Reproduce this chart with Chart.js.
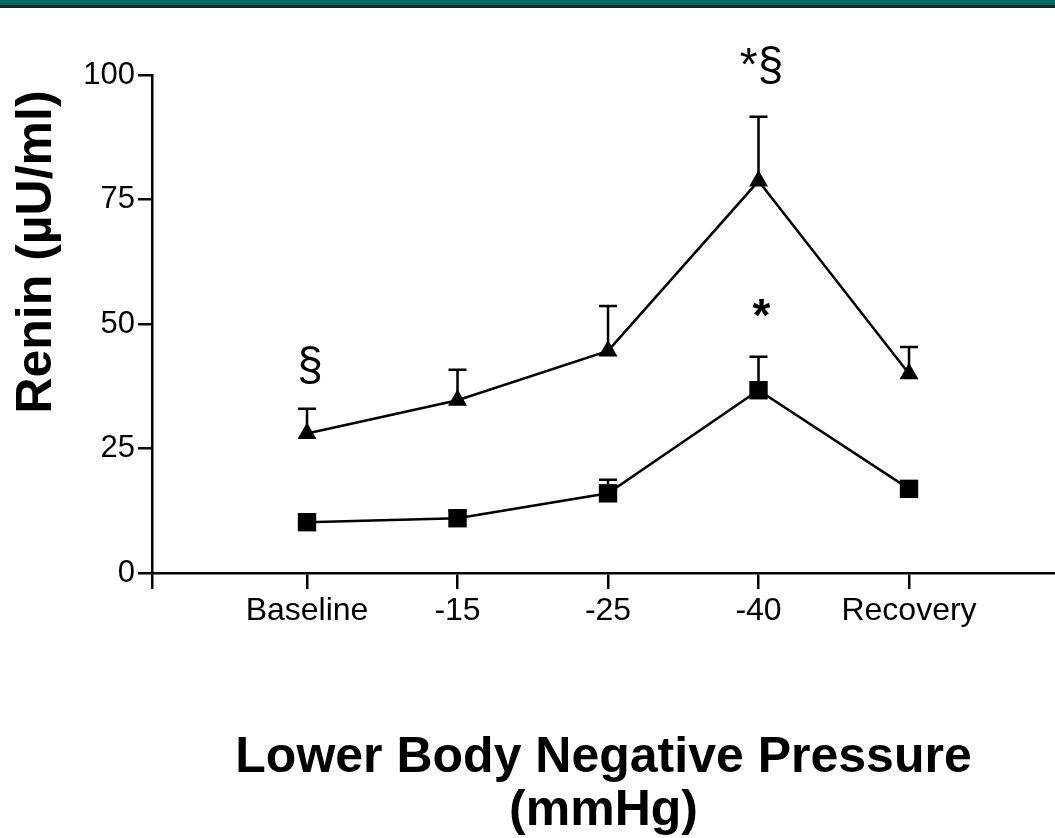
<!DOCTYPE html>
<html lang="en">
<head>
<meta charset="UTF-8">
<title>Renin during Lower Body Negative Pressure</title>
<script src="https://cdn.jsdelivr.net/npm/chart.js"></script>
<style>
  html, body { margin: 0; padding: 0; background: #fff; }
  #wrap { position: relative; width: 1055px; height: 838px; }
  #topbar { position: absolute; left: 0; top: 0; width: 1055px; height: 5px; background: #006a62; border-bottom: 3px solid #0f2a28; }
</style>
</head>
<body>
<div id="wrap">
  <canvas id="chart" width="1055" height="838"></canvas>
  <div id="topbar"></div>
</div>

<script>
  // categories on the x axis
  const categories = ['Baseline', '-15', '-25', '-40', 'Recovery'];

  // triangle series (upper line): mean and upward error (SEM)
  const triMean = [28, 34.7, 44.6, 78.7, 40];
  const triErr = [5, 6.1, 9, 12.9, 5.4];

  // square series (lower line)
  const sqMean = [10.2, 11, 16, 36.7, 16.9];
  const sqErr = [1.5, 1.5, 2.7, 6.7, 1.5];

  // y ticks
  const yTicks = [0, 25, 50, 75, 100];

  // significance marks: category index, value of the text baseline, text
  const marks = [
    { i: 0, y: 38.8, text: '§' },
    { i: 3, y: 48.5, text: '*' },
    { i: 3, y: 99, text: '*§' }
  ];

  const FONT = "'Liberation Sans', Arial, Helvetica, sans-serif";

  // draws error bars (up only) under the markers
  const errorBars = {
    id: 'errorBars',
    beforeDatasetsDraw(chart) {
      const ctx = chart.ctx;
      const x = chart.scales.x, y = chart.scales.y;
      const sets = [[triMean, triErr], [sqMean, sqErr]];
      ctx.save();
      ctx.strokeStyle = '#000';
      ctx.lineWidth = 2.5;
      sets.forEach(([mean, err]) => {
        mean.forEach((m, i) => {
          const px = x.getPixelForValue(i);
          const y0 = y.getPixelForValue(m);
          const y1 = y.getPixelForValue(m + err[i]);
          ctx.beginPath();
          ctx.moveTo(px, y0);
          ctx.lineTo(px, y1);
          ctx.moveTo(px - 9, y1);
          ctx.lineTo(px + 9, y1);
          ctx.stroke();
        });
      });
      ctx.restore();
    }
  };

  // significance symbols and the y title
  const textBits = {
    id: 'textBits',
    afterDraw(chart) {
      const ctx = chart.ctx;
      const x = chart.scales.x, y = chart.scales.y;
      ctx.save();
      ctx.fillStyle = '#000';
      ctx.textAlign = 'center';
      ctx.textBaseline = 'alphabetic';
      marks.forEach(m => {
        ctx.font = (m.text === '*' ? 'bold ' : '') + '46px ' + FONT;
        ctx.fillText(m.text, x.getPixelForValue(m.i) + 3, y.getPixelForValue(m.y));
      });

      ctx.translate(37, 252);
      ctx.rotate(-Math.PI / 2);
      ctx.font = 'bold 50px ' + FONT;
      ctx.textBaseline = 'middle';
      ctx.fillText('Renin (\u00b5U/ml)', 0, 0);
      ctx.restore();
    }
  };

  new Chart(document.getElementById('chart'), {
    type: 'scatter',
    data: {
      datasets: [
        {
          label: 'Triangles',
          data: triMean.map((v, i) => ({ x: i, y: v })),
          showLine: true,
          borderColor: '#000',
          backgroundColor: '#000',
          borderWidth: 2.5,
          pointStyle: 'triangle',
          pointRadius: 11,
          pointBorderWidth: 0
        },
        {
          label: 'Squares',
          data: sqMean.map((v, i) => ({ x: i, y: v })),
          showLine: true,
          borderColor: '#000',
          backgroundColor: '#000',
          borderWidth: 2.5,
          pointStyle: 'rect',
          pointRadius: 13,
          pointBorderWidth: 0
        }
      ]
    },
    options: {
      responsive: false,
      animation: false,
      devicePixelRatio: 1,
      layout: { autoPadding: false, padding: { top: 75, left: 0, right: 0, bottom: 0 } },
      plugins: { legend: { display: false }, tooltip: { enabled: false } },
      scales: {
        x: {
          type: 'linear',
          min: -1.03,
          max: 4.97,
          afterFit: s => { s.height = 265; s.paddingLeft = 0; s.paddingRight = 0; },
          afterBuildTicks: s => {
            s.ticks = [{ value: -1.03 }].concat(categories.map((c, i) => ({ value: i })));
          },
          ticks: {
            autoSkip: false,
            maxRotation: 0,
            color: '#000',
            padding: 3,
            font: { family: FONT, size: 32 },
            callback: v => (Number.isInteger(v) && categories[v] !== undefined ? categories[v] : '')
          },
          grid: { drawOnChartArea: false, drawTicks: true, tickLength: 16, color: '#000', lineWidth: 2.5 },
          border: { display: true, color: '#000', width: 2.5 },
          title: {
            display: true,
            text: ['Lower Body Negative Pressure', '(mmHg)'],
            color: '#000',
            font: { family: FONT, size: 50, weight: 'bold', lineHeight: 1.07 },
            padding: { top: 0, bottom: 0 }
          }
        },
        y: {
          min: 0,
          max: 100,
          afterFit: s => { s.width = 152; s.paddingTop = 0; s.paddingBottom = 0; },
          afterBuildTicks: s => { s.ticks = yTicks.map(v => ({ value: v })); },
          ticks: {
            color: '#000',
            padding: 3,
            font: { family: FONT, size: 31 }
          },
          grid: { drawOnChartArea: false, drawTicks: true, tickLength: 14, color: '#000', lineWidth: 2.5 },
          border: { display: true, color: '#000', width: 2.5 }
        }
      }
    },
    plugins: [errorBars, textBits]
  });
</script>
</body>
</html>
